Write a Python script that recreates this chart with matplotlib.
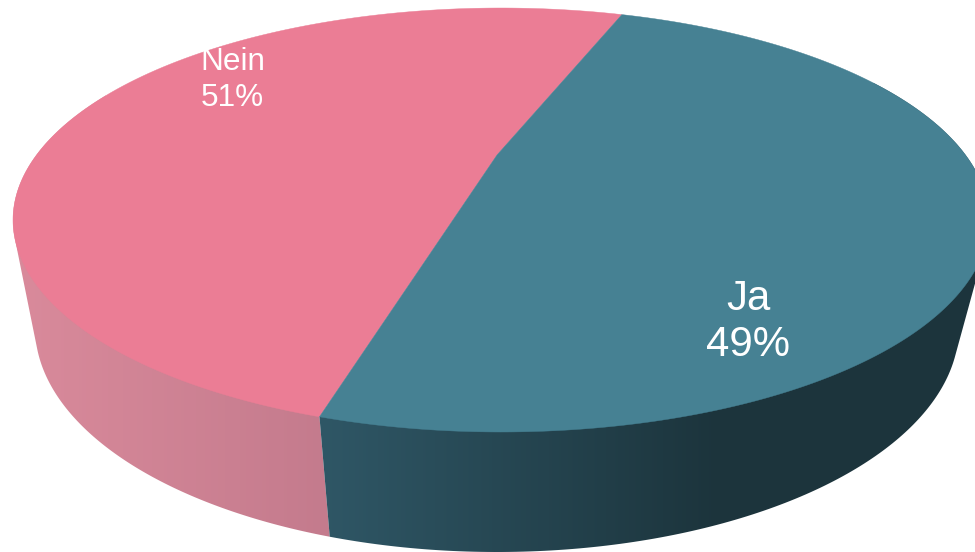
# coding=utf-8

import numpy as np
import matplotlib
matplotlib.use('Agg')
import matplotlib.pyplot as plt
from matplotlib.colors import to_rgb
from matplotlib.patches import Polygon

plt.rcParams['font.family'] = ['Liberation Sans', 'DejaVu Sans']

categories = ['Nein', 'Ja']
values = [51, 49]

top_colors = ['#EB7D95', '#468193']
wall_left = ['#D98A9B', '#2F5766']
wall_right = ['#C47B8D', '#1C343C']
wall_x_range = [(20, 327), (320, 720)]

start_angle = 70.4

# ellipses of the top and bottom rim: cx, cy, a, b, perspective
top_rim = (501.0, 220.0, 488.0, 212.0, 0.3066)
bottom_rim = (497.0, 327.0, 462.0, 225.0, 0.28)
hub_shift = -4


def project(rim, angle):
    """
    Point of a perspective circle, angle in degrees
    """
    cx, cy, a, b, s = rim
    t = np.radians(angle)
    u, v = np.cos(t), np.sin(t)
    f = a * np.sqrt(1 - s * s)
    g = b * (1 - s * s)
    d = 1 + s * v
    return cx + f * u / d, cy - b * s - g * v / d


def convex_hull(points):
    """
    Monotone chain, gives the straight side lines between the two rims
    """
    points = sorted(set(points))

    def half(pts):
        chain = []
        for p in pts:
            while len(chain) >= 2:
                a, b = chain[-2], chain[-1]
                if (b[0] - a[0]) * (p[1] - a[1]) - (b[1] - a[1]) * (p[0] - a[0]) <= 0:
                    chain.pop()
                else:
                    break
            chain.append(p)
        return chain[:-1]

    return half(points) + half(points[::-1])


fig = plt.figure(figsize=(9.75, 5.52), dpi=100)
ax = fig.add_axes([0, 0, 1, 1])

edges = [start_angle]
for val in values:
    edges.append(edges[-1] + val / float(sum(values)) * 360)

# side wall, only the part turned towards the viewer, shaded from left to right
xs = np.arange(975)
for i in range(len(values)):
    lo = max(edges[i], 160)
    hi = min(edges[i + 1], 385)
    angles = np.linspace(lo, hi, 200)
    outline = convex_hull([project(top_rim, a) for a in angles] + [project(bottom_rim, a) for a in angles])
    x0, x1 = wall_x_range[i]
    k = np.clip((xs - x0) / float(x1 - x0), 0, 1)[:, None]
    c0, c1 = np.array(to_rgb(wall_left[i])), np.array(to_rgb(wall_right[i]))
    gradient = (c0 + (c1 - c0) * k)[None, :, :]
    img = ax.imshow(gradient, extent=(0, 975, 552, 0), aspect='auto', interpolation='nearest', zorder=1 + i)
    img.set_clip_path(Polygon(outline, closed=True, transform=ax.transData))

ax.set_xlim(0, 975)
ax.set_ylim(552, 0)
ax.axis('off')

# top face
hub = (top_rim[0] + hub_shift, top_rim[1] - top_rim[3] * top_rim[4])
for i in range(len(values)):
    angles = np.linspace(edges[i], edges[i + 1], 300)
    arc = [project(top_rim, a) for a in angles]
    ax.fill([hub[0]] + [p[0] for p in arc], [hub[1]] + [p[1] for p in arc],
            color=top_colors[i], linewidth=0.3, zorder=5)

ax.text(232.5, 80, '%s\n%d%%' % (categories[0], values[0]), color='white', fontsize=22.7,
        ha='center', va='center', linespacing=1.22, zorder=6)
ax.text(748, 322, '%s\n%d%%' % (categories[1], values[1]), color='white', fontsize=30.2,
        ha='center', va='center', linespacing=1.2, zorder=6)

fig.savefig('out.png', dpi=100)
